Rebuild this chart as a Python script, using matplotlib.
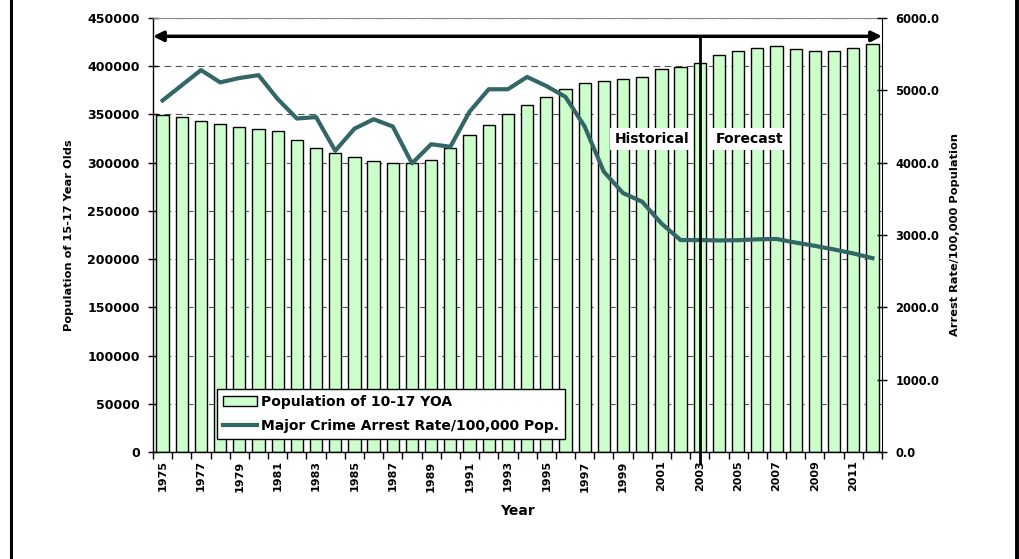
import matplotlib
matplotlib.use("Agg")
import matplotlib.pyplot as plt
import matplotlib.transforms as mtransforms
from matplotlib.lines import Line2D
import numpy as np

plt.rcParams['font.family'] = ['DejaVu Sans']
plt.rcParams['font.weight'] = 'bold'

# data
years = list(range(1975, 2013))
population = [349000, 347000, 343500, 340500, 337000, 335000, 332500, 324000,
              315000, 310000, 306000, 302000, 299500, 299300, 303000, 315500,
              328500, 339500, 350500, 359500, 368500, 376500, 382500, 385000,
              387000, 388500, 397000, 399000, 403700, 412000, 416000, 418800,
              420500, 417700, 416000, 416300, 419000, 422800]
arrest_rate = [4860, 5070, 5280, 5110, 5170, 5210, 4880, 4610,
               4630, 4165, 4470, 4600, 4500, 3990, 4255, 4220,
               4705, 5015, 5015, 5185, 5060, 4910, 4500, 3875,
               3580, 3460, 3160, 2930, 2930, 2925, 2928, 2940,
               2945, 2895, 2850, 2800, 2745, 2680]
tick_labels = [str(y) if (y - 1975) % 2 == 0 else '' for y in years]
split_year = 2003
arrow_level = 431000

bar_color = '#CCFFCC'
line_color = '#336666'

fig = plt.figure(figsize=(10.19, 5.59), dpi=100)
ax = fig.add_axes([153/1019, 1 - 452/559, (882-153)/1019, (452-18)/559])
ax2 = ax.twinx()

x = np.arange(len(years))

# grid behind bars
ax.set_axisbelow(True)
ax.yaxis.grid(True, color='#555555', linestyle=(0, (6, 4)), linewidth=0.8)

bars = ax.bar(x, population, width=0.64, color=bar_color, edgecolor='black',
              linewidth=1.0, label='Population of 10-17 YOA')
line, = ax2.plot(x, arrest_rate, color=line_color, linewidth=3.0,
                 label='Major Crime Arrest Rate/100,000 Pop.')

ax.set_xlim(-0.5, len(years) - 0.5)
ax.set_ylim(0, 450000)
ax2.set_ylim(0, 6000)

ax.set_yticks(np.arange(0, 450001, 50000))
ax.set_yticklabels([str(v) for v in range(0, 450001, 50000)])
ax2.set_yticks(np.arange(0, 6001, 1000))
ax2.set_yticklabels(['%.1f' % v for v in range(0, 6001, 1000)])

ax.set_xticks(x)
ax.set_xticklabels(tick_labels, rotation=90, fontsize=8, fontweight='bold')
ax.set_xticks(np.arange(-0.5, len(years), 1), minor=True)
ax.tick_params(axis='x', which='major', length=0, pad=6)
ax.tick_params(axis='x', which='minor', length=5, direction='out', width=1)
ax.tick_params(axis='y', direction='inout', length=7, width=1, labelsize=9, pad=6)
ax2.tick_params(axis='y', direction='inout', length=7, width=1, labelsize=8.3, pad=6)

for sp in ['left', 'bottom']:
    ax.spines[sp].set_color('black')
    ax.spines[sp].set_linewidth(1.0)
ax.spines['top'].set_color('#888888')
ax.spines['right'].set_visible(False)
ax2.spines['top'].set_visible(False)
ax2.spines['left'].set_visible(False)
ax2.spines['bottom'].set_visible(False)
ax2.spines['right'].set_color('black')

ax.set_ylabel('Population of 15-17 Year Olds', fontsize=8.2, fontweight='bold', labelpad=9.5)
ax2.set_ylabel('Arrest Rate/100,000 Population', fontsize=8.2, fontweight='bold', labelpad=7.5)
ax.set_xlabel('Year', fontsize=10, fontweight='bold', labelpad=9)

# historical / forecast divider and arrow
split_idx = years.index(split_year)
ax2.plot([split_idx, split_idx], [-11000, arrow_level], color='black', linewidth=2.0,
         transform=ax.transData, clip_on=False, zorder=5)
blend = mtransforms.blended_transform_factory(ax.transAxes, ax.transData)
ax2.annotate('', xy=(0, arrow_level), xytext=(1, arrow_level), xycoords=blend,
             textcoords=blend,
             arrowprops=dict(arrowstyle='<|-|>,head_length=0.6,head_width=0.3',
                             color='black', linewidth=2.5, shrinkA=0, shrinkB=0),
             zorder=6)

box = dict(facecolor='white', edgecolor='none', pad=3)
ax2.text(split_idx - 2.5, 324500, 'Historical', transform=ax.transData, ha='center',
         va='center', fontsize=10, fontweight='bold', bbox=box, zorder=7)
ax2.text(split_idx + 2.6, 324500, 'Forecast', transform=ax.transData, ha='center',
         va='center', fontsize=10, fontweight='bold', bbox=box, zorder=7)

leg = ax2.legend([bars, line], [bars.get_label(), line.get_label()],
                 loc='lower left', bbox_to_anchor=(217/1019, 1 - 439/559),
                 bbox_transform=fig.transFigure, borderaxespad=0,
                 fontsize=10, frameon=True, fancybox=False, framealpha=1,
                 edgecolor='black', handlelength=2.4, labelspacing=0.7,
                 handletextpad=0.3, borderpad=0.45)
leg.get_frame().set_linewidth(1.0)
for t in leg.get_texts():
    t.set_fontweight('bold')

# page border lines
fig.add_artist(Line2D([10.5/1019, 10.5/1019], [0, 1], color='black', linewidth=2.2))
fig.add_artist(Line2D([1017/1019, 1017/1019], [0, 1], color='black', linewidth=2.8))

fig.savefig('out.png', dpi=100)
